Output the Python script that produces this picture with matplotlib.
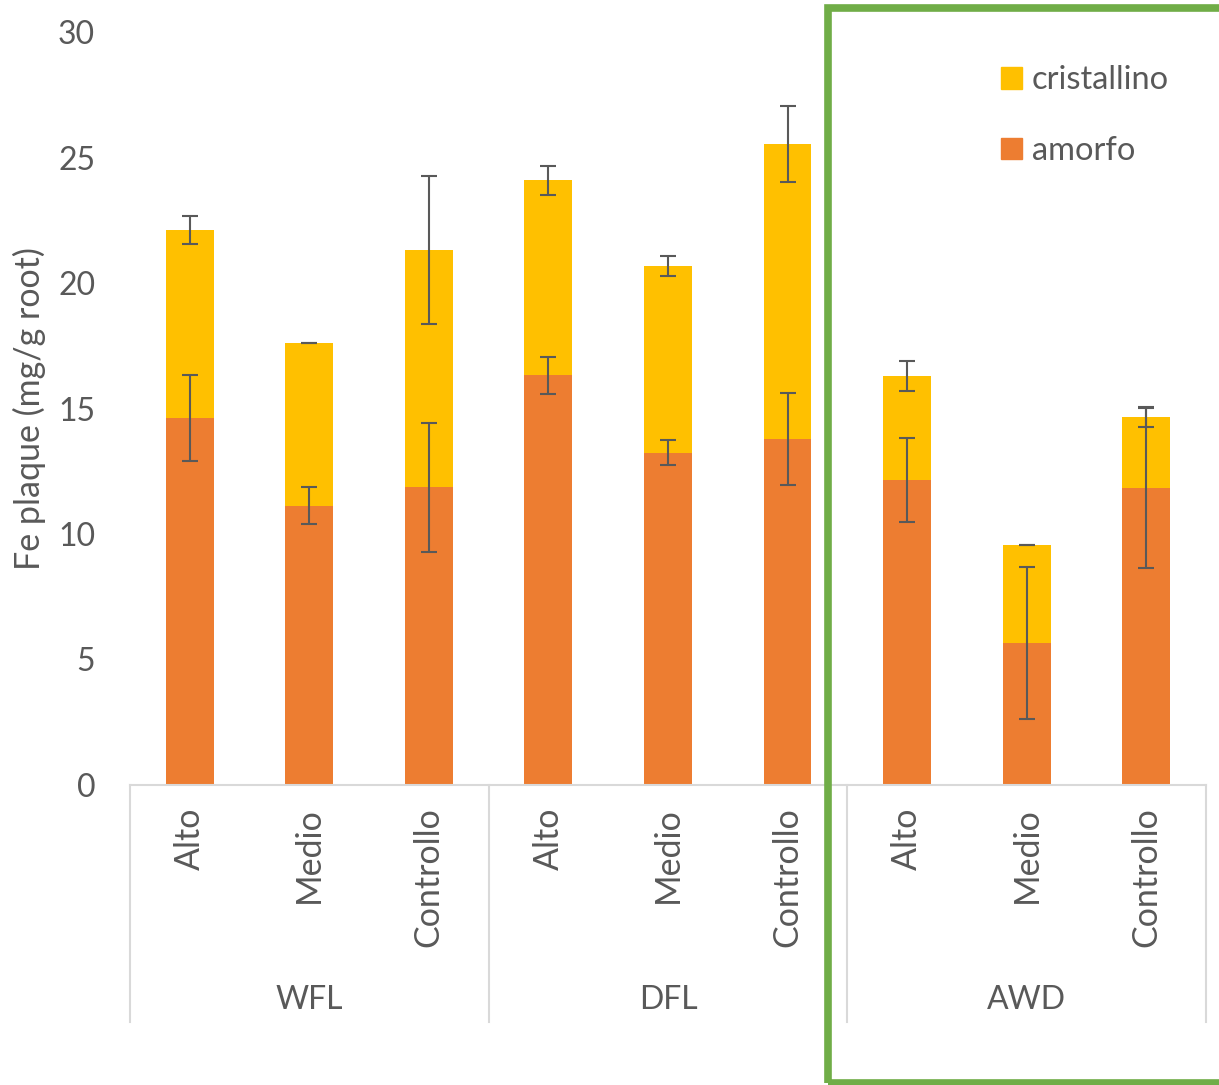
import numpy as np
import matplotlib
import matplotlib.pyplot as plt
from matplotlib.patches import Rectangle, Patch

matplotlib.use('Agg')

plt.rcParams['font.family'] = ['Lato', 'DejaVu Sans']

groups = ["WFL", "DFL", "AWD"]
levels = ["Alto", "Medio", "Controllo"]

amorfo = [14.62, 11.12, 11.87, 16.33, 13.23, 13.78, 12.15, 5.67, 11.83]
amorfo_err = [1.73, 0.74, 2.57, 0.74, 0.50, 1.83, 1.69, 3.03, 3.20]
cristallino = [7.49, 6.49, 9.44, 7.77, 7.45, 11.76, 4.14, 3.91, 2.83]
cristallino_err = [0.54, 0.0, 2.95, 0.58, 0.40, 1.53, 0.60, 0.0, 0.40]

col_amorfo = '#ED7D31'
col_crist = '#FFC000'
grey = '#595959'
axis_grey = '#D9D9D9'

fig = plt.figure(figsize=(12.19, 10.85), dpi=100)
ax = fig.add_axes([0.1066, 0.2765, 0.8827, 0.694])

x = np.arange(len(amorfo))
totals = np.array(amorfo) + np.array(cristallino)

ax.bar(x, amorfo, width=0.4, color=col_amorfo, zorder=2)
ax.bar(x, cristallino, width=0.4, bottom=amorfo, color=col_crist, zorder=2)
ax.errorbar(x, amorfo, yerr=amorfo_err, fmt='none', ecolor=grey,
            elinewidth=1.5, capsize=6, capthick=1.5, zorder=3)
ax.errorbar(x, totals, yerr=cristallino_err, fmt='none', ecolor=grey,
            elinewidth=1.5, capsize=6, capthick=1.5, zorder=3)

ax.set_xlim(-0.5, len(amorfo) - 0.5)
ax.set_ylim(0, 30)
ax.set_yticks(range(0, 31, 5))
ax.tick_params(axis='y', length=0, labelsize=23, labelcolor=grey, pad=25)

for s in ['top', 'right', 'left']:
    ax.spines[s].set_visible(False)
ax.spines['bottom'].set_color(axis_grey)
ax.spines['bottom'].set_linewidth(1.5)

ax.set_xticks(x)
ax.set_xticklabels(levels * len(groups), rotation=90, fontsize=24.5, color=grey)
ax.tick_params(axis='x', length=0, pad=16)

# group separators and group labels
trans = ax.get_xaxis_transform()
for b in np.arange(len(groups) + 1) * 3 - 0.5:
    ax.plot([b, b], [0, -0.315], transform=trans, color=axis_grey,
            lw=1.5, clip_on=False)
for i, g in enumerate(groups):
    ax.text(i * 3 + 1, -0.285, g, transform=trans, ha='center', va='center',
            fontsize=23, color=grey)

ax.set_ylabel("Fe plaque (mg/g root)", fontsize=24.5, color=grey)
ax.yaxis.set_label_coords(-0.078, 0.5)

handles = [Patch(color=col_crist, label='cristallino'),
           Patch(color=col_amorfo, label='amorfo')]
leg = ax.legend(handles=handles, loc='upper left', bbox_to_anchor=(0.782, 0.995),
                frameon=False, fontsize=23.5, labelcolor=grey,
                handlelength=0.65, handleheight=0.65, handletextpad=0.3,
                labelspacing=1.25)

# green frame around the AWD group
fig.patches.append(Rectangle((828 / 1219, 1 - 1083 / 1085), 0.5, 1075 / 1085,
                             transform=fig.transFigure, fill=False,
                             edgecolor='#70AD47', linewidth=5.5, zorder=5))

fig.savefig('out.png', dpi=100)
